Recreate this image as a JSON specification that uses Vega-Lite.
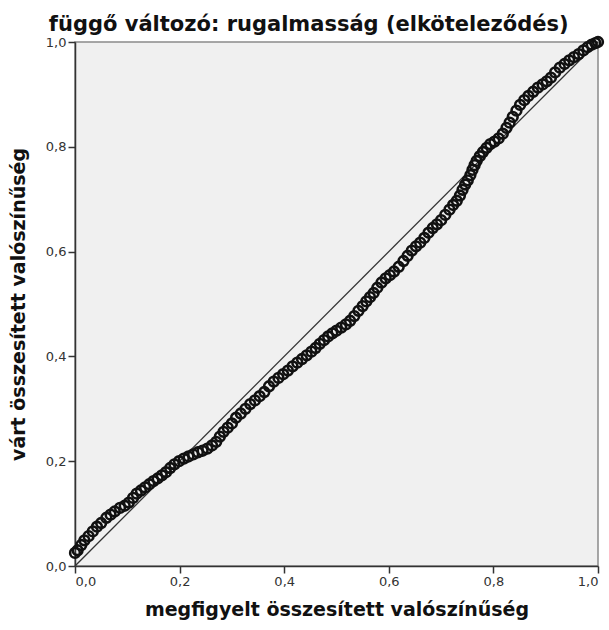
{
  "$schema": "https://vega.github.io/schema/vega-lite/v6.json",
  "width": 523,
  "height": 524,
  "padding": {"left": 9, "top": 13, "right": 0, "bottom": 3},
  "background": "white",
  "config": {
    "view": {"fill": "#F0F0F0", "stroke": "#8a8a8a", "strokeWidth": 1.5},
    "font": "DejaVu Sans",
    "axis": {
      "grid": false,
      "domainColor": "#333333",
      "domainWidth": 1.5,
      "tickColor": "#333333",
      "tickWidth": 1.5,
      "tickSize": 7,
      "labelFont": "DejaVu Sans",
      "labelFontSize": 13,
      "labelColor": "#333333",
      "titleFont": "DejaVu Sans",
      "titleFontWeight": "bold",
      "titleFontSize": 19,
      "titleColor": "#111111"
    }
  },
  "title": {
    "text": "függő változó: rugalmasság (elköteleződés)",
    "font": "DejaVu Sans",
    "fontSize": 21,
    "fontWeight": "bold",
    "color": "#111111",
    "anchor": "middle",
    "frame": "bounds",
    "offset": -3
  },
  "datasets": {
    "pts": [
      {"p": 0.000, "v": 0.025}, {"p": 0.005, "v": 0.030}, {"p": 0.012, "v": 0.040}, {"p": 0.018, "v": 0.049},
      {"p": 0.026, "v": 0.057}, {"p": 0.034, "v": 0.066}, {"p": 0.042, "v": 0.075}, {"p": 0.050, "v": 0.082},
      {"p": 0.060, "v": 0.092}, {"p": 0.068, "v": 0.098}, {"p": 0.076, "v": 0.104}, {"p": 0.086, "v": 0.111},
      {"p": 0.095, "v": 0.115}, {"p": 0.103, "v": 0.121}, {"p": 0.111, "v": 0.130}, {"p": 0.118, "v": 0.138},
      {"p": 0.126, "v": 0.144}, {"p": 0.134, "v": 0.150}, {"p": 0.142, "v": 0.156}, {"p": 0.150, "v": 0.162},
      {"p": 0.158, "v": 0.167}, {"p": 0.166, "v": 0.173}, {"p": 0.174, "v": 0.179}, {"p": 0.182, "v": 0.187},
      {"p": 0.190, "v": 0.194}, {"p": 0.199, "v": 0.200}, {"p": 0.208, "v": 0.205}, {"p": 0.217, "v": 0.209},
      {"p": 0.226, "v": 0.213}, {"p": 0.235, "v": 0.217}, {"p": 0.244, "v": 0.220}, {"p": 0.253, "v": 0.224},
      {"p": 0.262, "v": 0.230}, {"p": 0.270, "v": 0.237}, {"p": 0.277, "v": 0.247}, {"p": 0.284, "v": 0.256},
      {"p": 0.292, "v": 0.264}, {"p": 0.300, "v": 0.272}, {"p": 0.308, "v": 0.283}, {"p": 0.317, "v": 0.291},
      {"p": 0.326, "v": 0.300}, {"p": 0.335, "v": 0.309}, {"p": 0.344, "v": 0.316}, {"p": 0.353, "v": 0.324},
      {"p": 0.362, "v": 0.332}, {"p": 0.371, "v": 0.343}, {"p": 0.380, "v": 0.352}, {"p": 0.389, "v": 0.359},
      {"p": 0.398, "v": 0.366}, {"p": 0.407, "v": 0.373}, {"p": 0.416, "v": 0.381}, {"p": 0.425, "v": 0.388},
      {"p": 0.434, "v": 0.395}, {"p": 0.443, "v": 0.402}, {"p": 0.452, "v": 0.409}, {"p": 0.460, "v": 0.416},
      {"p": 0.468, "v": 0.424}, {"p": 0.476, "v": 0.431}, {"p": 0.484, "v": 0.438}, {"p": 0.492, "v": 0.444},
      {"p": 0.500, "v": 0.449}, {"p": 0.509, "v": 0.455}, {"p": 0.518, "v": 0.461}, {"p": 0.526, "v": 0.468},
      {"p": 0.534, "v": 0.477}, {"p": 0.542, "v": 0.487}, {"p": 0.550, "v": 0.496}, {"p": 0.557, "v": 0.505},
      {"p": 0.564, "v": 0.513}, {"p": 0.571, "v": 0.521}, {"p": 0.578, "v": 0.531}, {"p": 0.586, "v": 0.541},
      {"p": 0.594, "v": 0.549}, {"p": 0.602, "v": 0.555}, {"p": 0.610, "v": 0.562}, {"p": 0.619, "v": 0.571},
      {"p": 0.628, "v": 0.582}, {"p": 0.636, "v": 0.592}, {"p": 0.644, "v": 0.602}, {"p": 0.652, "v": 0.610},
      {"p": 0.660, "v": 0.617}, {"p": 0.668, "v": 0.626}, {"p": 0.676, "v": 0.636}, {"p": 0.684, "v": 0.645},
      {"p": 0.692, "v": 0.652}, {"p": 0.700, "v": 0.660}, {"p": 0.708, "v": 0.670}, {"p": 0.716, "v": 0.680},
      {"p": 0.723, "v": 0.689}, {"p": 0.730, "v": 0.697}, {"p": 0.736, "v": 0.707}, {"p": 0.741, "v": 0.718},
      {"p": 0.746, "v": 0.728}, {"p": 0.751, "v": 0.736}, {"p": 0.756, "v": 0.746}, {"p": 0.760, "v": 0.756},
      {"p": 0.764, "v": 0.765}, {"p": 0.768, "v": 0.773}, {"p": 0.774, "v": 0.782}, {"p": 0.780, "v": 0.790},
      {"p": 0.787, "v": 0.798}, {"p": 0.794, "v": 0.805}, {"p": 0.802, "v": 0.810}, {"p": 0.810, "v": 0.816},
      {"p": 0.818, "v": 0.825}, {"p": 0.825, "v": 0.836}, {"p": 0.831, "v": 0.846}, {"p": 0.837, "v": 0.857},
      {"p": 0.844, "v": 0.869}, {"p": 0.851, "v": 0.880}, {"p": 0.859, "v": 0.889}, {"p": 0.867, "v": 0.897},
      {"p": 0.876, "v": 0.905}, {"p": 0.885, "v": 0.913}, {"p": 0.894, "v": 0.919}, {"p": 0.902, "v": 0.925},
      {"p": 0.910, "v": 0.932}, {"p": 0.918, "v": 0.942}, {"p": 0.927, "v": 0.951}, {"p": 0.936, "v": 0.958},
      {"p": 0.945, "v": 0.965}, {"p": 0.954, "v": 0.971}, {"p": 0.963, "v": 0.977}, {"p": 0.972, "v": 0.984},
      {"p": 0.980, "v": 0.990}, {"p": 0.988, "v": 0.995}, {"p": 0.995, "v": 0.998}, {"p": 1.000, "v": 1.000}
    ],
    "diag": [{"p": 0, "v": 0}, {"p": 1, "v": 1}]
  },
  "layer": [
    {
      "data": {"name": "diag"},
      "mark": {"type": "line", "color": "#333333", "strokeWidth": 1.3},
      "encoding": {
        "x": {"field": "p", "type": "quantitative"},
        "y": {"field": "v", "type": "quantitative"}
      }
    },
    {
      "data": {"name": "pts"},
      "mark": {"type": "point", "shape": "circle", "filled": false, "stroke": "#111111", "strokeWidth": 2.6, "size": 95, "opacity": 1},
      "encoding": {
        "x": {
          "field": "p", "type": "quantitative",
          "scale": {"domain": [0, 1], "nice": false, "zero": false},
          "axis": {"values": [0, 0.2, 0.4, 0.6, 0.8, 1.0], "labelExpr": "replace(format(datum.value, '.1f'), '.', ',')", "title": "megfigyelt összesített valószínűség", "titlePadding": 12, "labelPadding": 2}
        },
        "y": {
          "field": "v", "type": "quantitative",
          "scale": {"domain": [0, 1], "nice": false, "zero": false},
          "axis": {"values": [0, 0.2, 0.4, 0.6, 0.8, 1.0], "labelExpr": "replace(format(datum.value, '.1f'), '.', ',')", "title": "várt összesített valószínűség", "titlePadding": 17, "labelPadding": 2}
        }
      }
    }
  ]
}
